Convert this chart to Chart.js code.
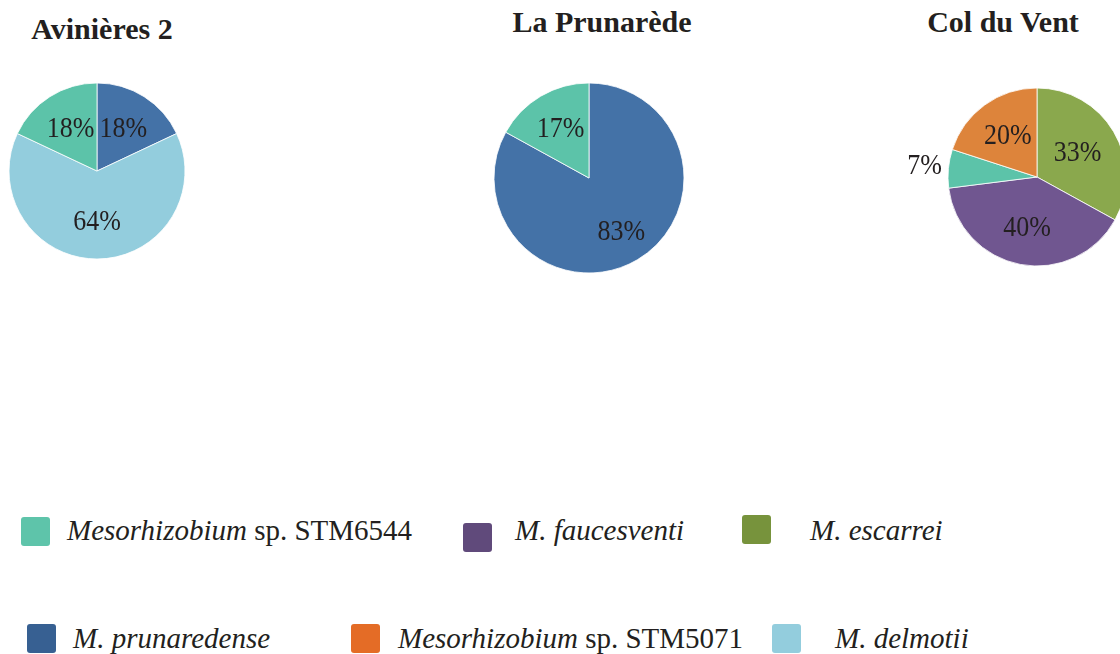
<!DOCTYPE html>
<html>
<head>
<meta charset="utf-8">
<script src="https://cdn.jsdelivr.net/npm/chart.js@4"></script>
<style>
  html, body { margin: 0; padding: 0; background: #fff; }
  body { width: 1120px; height: 654px; position: relative; overflow: hidden; font-family: "Liberation Serif", "Times New Roman", serif; color: #231f20; }
  .pie { position: absolute; }
  .title { position: absolute; font-weight: bold; font-size: 30px; line-height: 30px; white-space: nowrap; transform: translateX(-50%); }
  .sw { position: absolute; width: 29px; height: 29px; border-radius: 3px; }
  .lab { position: absolute; font-size: 29px; line-height: 29px; white-space: nowrap; }
  .lab i { font-style: italic; }
</style>
</head>
<body>
<script>
const SITES = ['Avinières 2', 'La Prunarède', 'Col du Vent'];
const SPECIES = ['Mesorhizobium sp. STM6544', 'M. faucesventi', 'M. escarrei', 'M. prunaredense', 'Mesorhizobium sp. STM5071', 'M. delmotii'];

// slices of each site, clockwise from 12 o'clock (% of isolates)
const AVINIERES_SPECIES = ['M. prunaredense', 'M. delmotii', 'Mesorhizobium sp. STM6544'];
const AVINIERES_PCT = [18, 64, 18];
const PRUNAREDE_SPECIES = ['M. prunaredense', 'Mesorhizobium sp. STM6544'];
const PRUNAREDE_PCT = [83, 17];
const COLDUVENT_SPECIES = ['M. escarrei', 'M. faucesventi', 'Mesorhizobium sp. STM6544', 'Mesorhizobium sp. STM5071'];
const COLDUVENT_PCT = [33, 40, 7, 20];

const PIE_COLORS = {
  'Mesorhizobium sp. STM6544': '#5cc3a9',
  'M. faucesventi': '#705690',
  'M. escarrei': '#8aa84d',
  'M. prunaredense': '#4472a7',
  'Mesorhizobium sp. STM5071': '#dd843b',
  'M. delmotii': '#93cddd',
};
const KEY_COLORS = ['#5ec4aa', '#604a7b', '#77933c', '#376092', '#e46c26', '#93cddd'];

// pie centre / radius, title anchor, and how far out (fraction of r) each % label sits
const LAYOUT = [
  { cx: 97, cy: 171, r: 88, tx: 102, ty: 14, lr: [0.56, 0.58, 0.56] },
  { cx: 589, cy: 178, r: 95, tx: 602, ty: 7, lr: [0.67, 0.59] },
  { cx: 1037, cy: 177, r: 89, tx: 1003, ty: 7, lr: [0.53, 0.59, 0, 0.56] },
];
// legend swatch and text positions, same order as SPECIES
const KEY_POS = [
  { x: 21, y: 517, tx: 67 }, { x: 463, y: 523, tx: 515 }, { x: 742, y: 515, tx: 810 },
  { x: 27, y: 624, tx: 73 }, { x: 351, y: 624, tx: 398 }, { x: 772, y: 624, tx: 835 },
];
const KEY_ROW_TOP = [516, 624];

const pctLabels = {
  id: 'pctLabels',
  afterDatasetsDraw(chart, args, opts) {
    const ctx = chart.ctx;
    const ds = chart.data.datasets[0];
    ctx.save();
    ctx.font = '26px "Liberation Serif", serif';
    ctx.fillStyle = '#231f20';
    ctx.textAlign = 'center';
    ctx.textBaseline = 'middle';
    chart.getDatasetMeta(0).data.forEach((arc, i) => {
      const v = ds.data[i];
      const mid = (arc.startAngle + arc.endAngle) / 2;
      // thin slices get their label outside the pie
      const d = v < 10 ? arc.outerRadius + 24 : arc.outerRadius * opts.lr[i];
      ctx.save();
      ctx.translate(arc.x + Math.cos(mid) * d, arc.y + Math.sin(mid) * d);
      ctx.scale(1, 1.12);
      ctx.fillText(v + '%', 0, 0);
      ctx.restore();
    });
    ctx.restore();
  }
};

function pie(i, names, values) {
  const L = LAYOUT[i];
  const box = document.createElement('div');
  box.className = 'pie';
  Object.assign(box.style, { left: (L.cx - 140) + 'px', top: (L.cy - 115) + 'px', width: '280px', height: '230px' });
  const cv = document.createElement('canvas');
  box.appendChild(cv);
  document.body.appendChild(box);

  const t = document.createElement('div');
  t.className = 'title';
  t.textContent = SITES[i];
  Object.assign(t.style, { left: L.tx + 'px', top: L.ty + 'px' });
  document.body.appendChild(t);

  new Chart(cv, {
    type: 'pie',
    data: {
      labels: names,
      datasets: [{ data: values, backgroundColor: names.map(n => PIE_COLORS[n]), borderColor: '#fff', borderWidth: 0.8 }],
    },
    options: {
      responsive: true, maintainAspectRatio: false, animation: false,
      radius: L.r,
      layout: { padding: 0 },
      plugins: { legend: { display: false }, tooltip: { enabled: false }, pctLabels: { lr: L.lr } },
    },
    plugins: [pctLabels],
  });
}

pie(0, AVINIERES_SPECIES, AVINIERES_PCT);
pie(1, PRUNAREDE_SPECIES, PRUNAREDE_PCT);
pie(2, COLDUVENT_SPECIES, COLDUVENT_PCT);

// legend: genus names italic, "sp. STMxxxx" upright
SPECIES.forEach((name, i) => {
  const p = KEY_POS[i];
  const sw = document.createElement('div');
  sw.className = 'sw';
  Object.assign(sw.style, { left: p.x + 'px', top: p.y + 'px', background: KEY_COLORS[i] });
  document.body.appendChild(sw);
  const lab = document.createElement('div');
  lab.className = 'lab';
  const parts = name.split(' sp. ');
  lab.innerHTML = parts.length > 1 ? `<i>${parts[0]}</i> sp. ${parts[1]}` : `<i>${name}</i>`;
  Object.assign(lab.style, { left: p.tx + 'px', top: KEY_ROW_TOP[i < 3 ? 0 : 1] + 'px' });
  document.body.appendChild(lab);
});
</script>
</body>
</html>
